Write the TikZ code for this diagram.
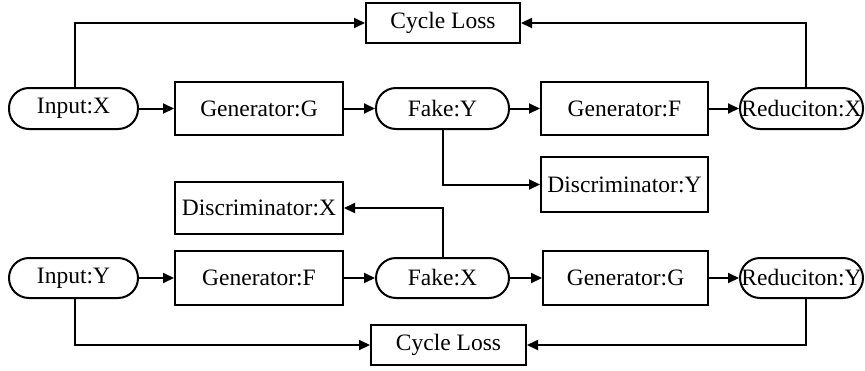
\documentclass[tikz,border=0pt]{standalone}
\usepackage{fontspec}
\setmainfont{Liberation Serif}
\usetikzlibrary{arrows.meta}
\begin{document}
\begin{tikzpicture}[x=1pt,y=-1pt,
  box/.style={draw,line width=2pt,inner sep=0pt,font=\fontsize{23.5}{28}\selectfont},
  pill/.style={box,rounded corners=20pt},
  arr/.style={line width=2pt,-{Triangle[length=11pt,width=10pt]}}]
\useasboundingbox (0,0) rectangle (865,370);
\node[pill,minimum width=129pt,minimum height=41pt] (inX) at (73.5,108.5) {Input:X};
\node[box,minimum width=168pt,minimum height=53pt] (genG1) at (259,108.5) {Generator:G};
\node[pill,minimum width=133pt,minimum height=41pt] (fakeY) at (442.5,108.5) {Fake:Y};
\node[box,minimum width=167pt,minimum height=53pt] (genF1) at (624.5,108.5) {Generator:F};
\node[pill,minimum width=123pt,minimum height=41pt] (redX) at (801.5,108.5) {Reduciton:X};
\node[box,minimum width=154pt,minimum height=40pt] (cyc1) at (443,23) {Cycle Loss};
\node[box,minimum width=167pt,minimum height=55pt] (disY) at (624.5,184.5) {Discriminator:Y};
\node[box,minimum width=168pt,minimum height=52pt] (disX) at (259,208) {Discriminator:X};
\node[pill,minimum width=129pt,minimum height=40pt] (inY) at (73.5,278) {Input:Y};
\node[box,minimum width=168pt,minimum height=54pt] (genF2) at (259,278) {Generator:F};
\node[pill,minimum width=133pt,minimum height=40pt] (fakeX) at (442.5,278) {Fake:X};
\node[box,minimum width=165pt,minimum height=54pt] (genG2) at (625.5,278) {Generator:G};
\node[pill,minimum width=123pt,minimum height=40pt] (redY) at (801.5,278) {Reduciton:Y};
\node[box,minimum width=155pt,minimum height=40pt] (cyc2) at (448.5,345) {Cycle Loss};
\draw[arr] (inX) -- (genG1);
\draw[arr] (genG1) -- (fakeY);
\draw[arr] (fakeY) -- (genF1);
\draw[arr] (genF1) -- (redX);
\draw[arr] ([xshift=1.5pt]inX.north) |- (cyc1.west);
\draw[arr] ([xshift=4.5pt]redX.north) |- (cyc1.east);
\draw[arr] (fakeY.south) |- (disY.west);
\draw[arr] (inY) -- (genF2);
\draw[arr] (genF2) -- (fakeX);
\draw[arr] (fakeX) -- (genG2);
\draw[arr] (genG2) -- (redY);
\draw[arr] (fakeX.north) |- (disX.east);
\draw[arr] ([xshift=1.5pt]inY.south) |- (cyc2.west);
\draw[arr] ([xshift=4.5pt]redY.south) |- (cyc2.east);
\end{tikzpicture}
\end{document}
